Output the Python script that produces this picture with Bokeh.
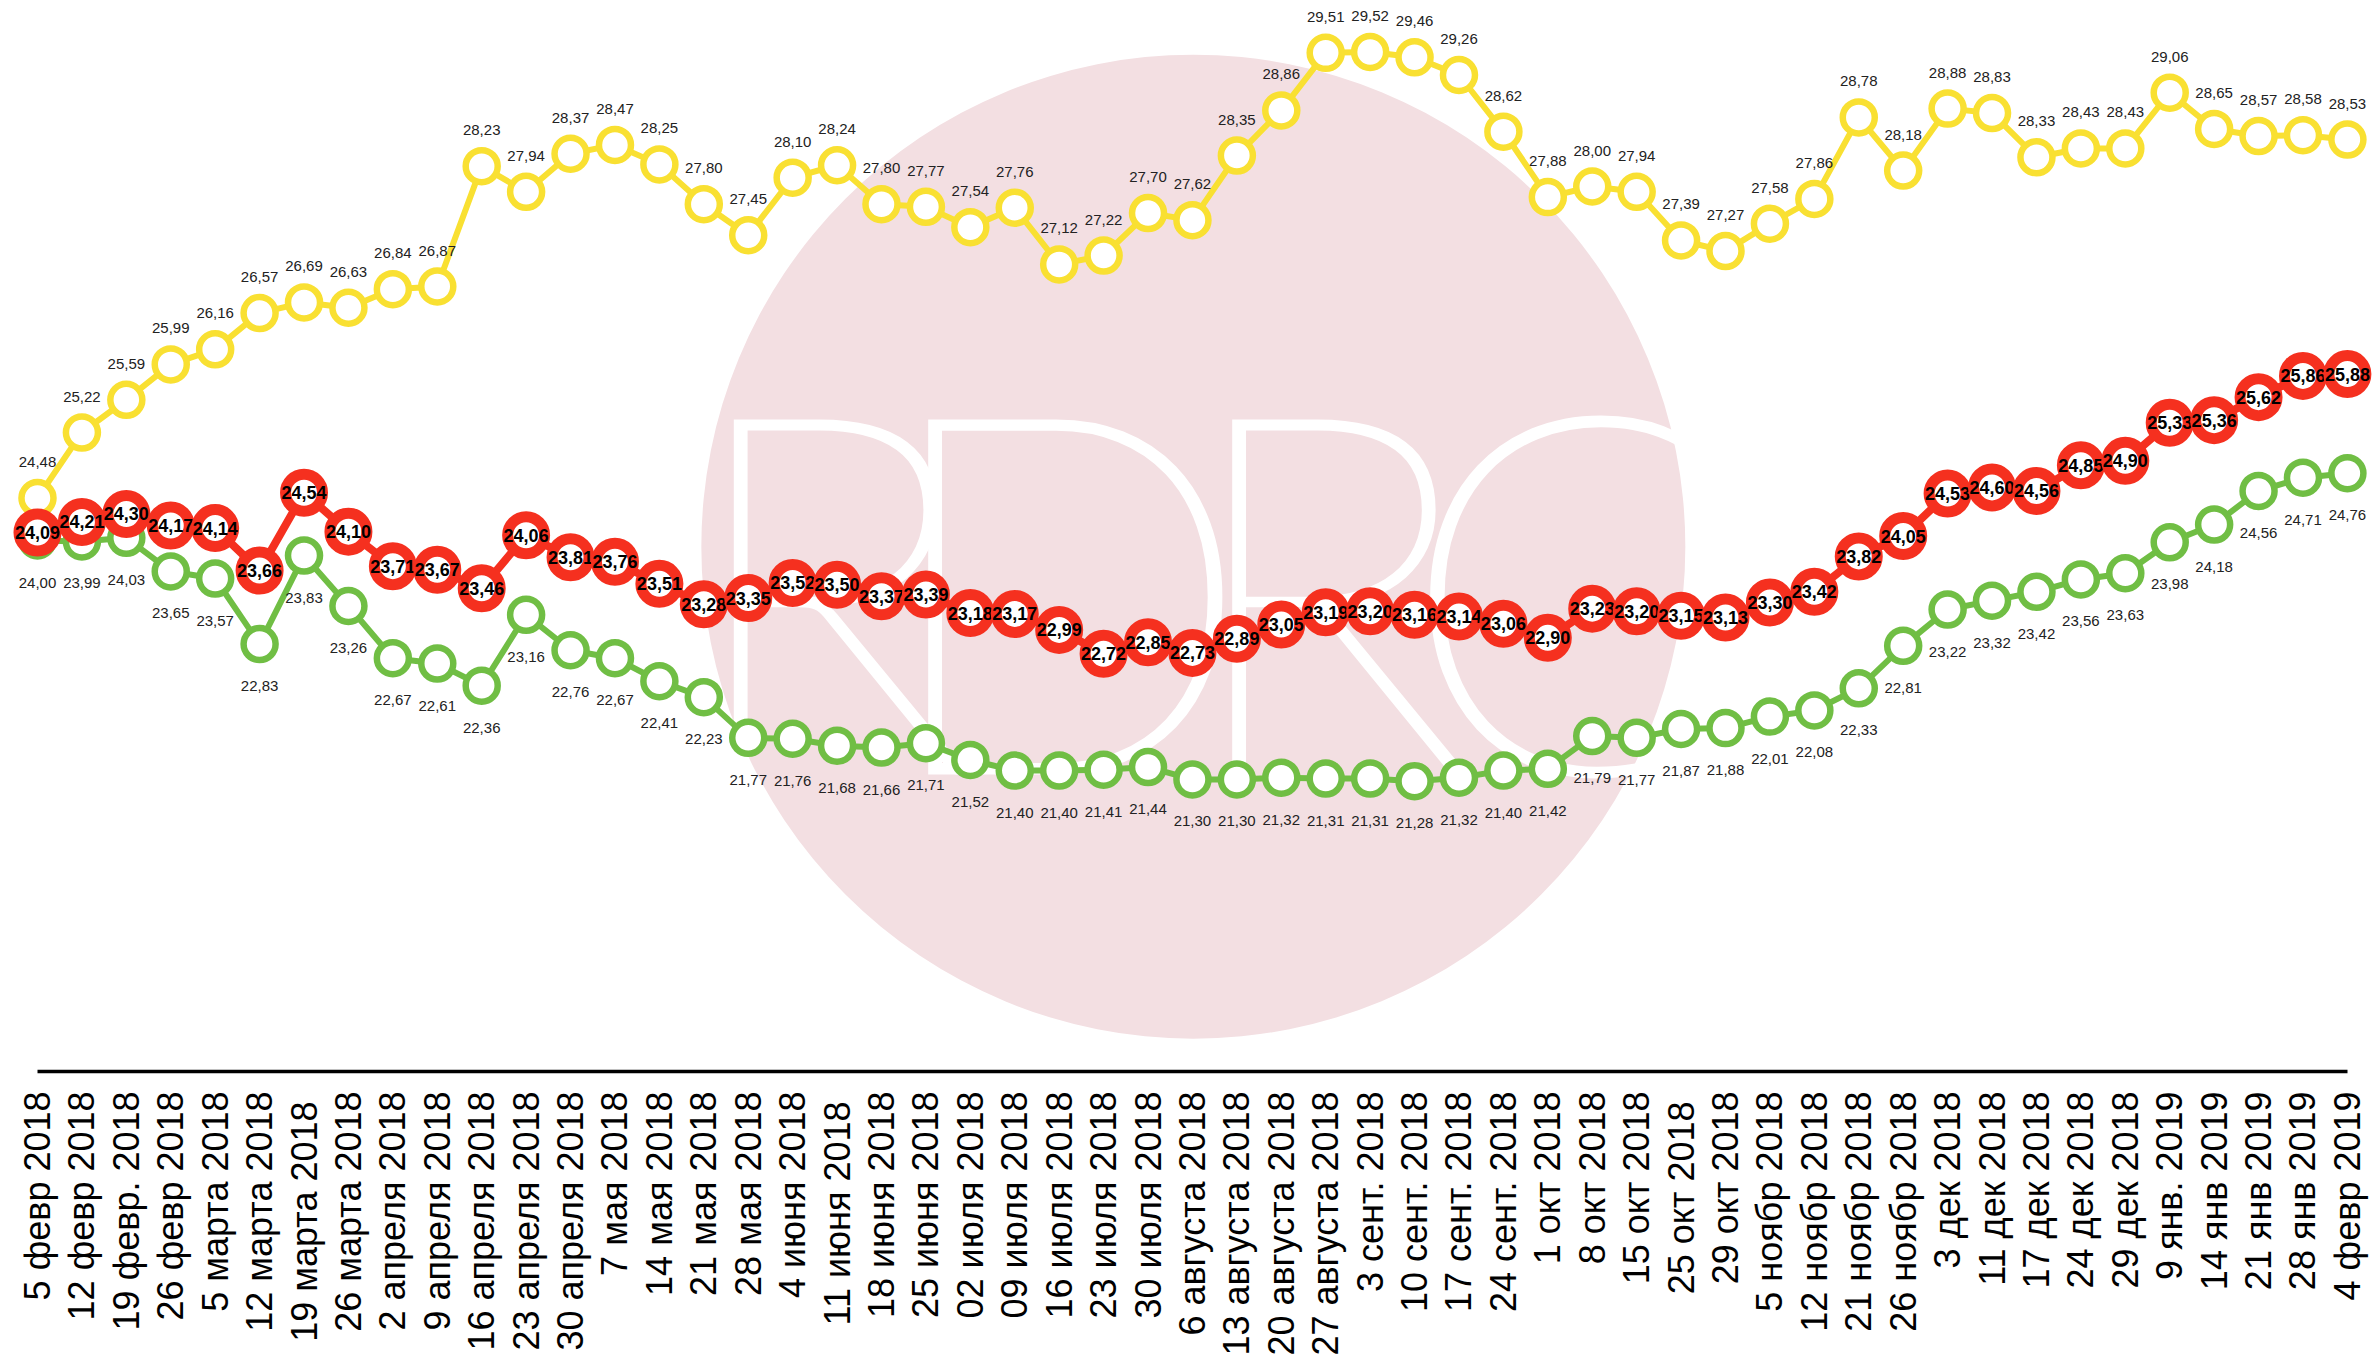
import math
from bokeh.plotting import figure
from bokeh.models import ColumnDataSource, Range1d, FixedTicker
from bokeh.core.properties import value
from bokeh.embed import file_html
from bokeh.resources import INLINE

# ---------------- data ----------------
dates = [
    "5 февр 2018", "12 февр 2018", "19 февр. 2018", "26 февр 2018",
    "5 марта 2018", "12 марта 2018", "19  марта 2018", "26 марта 2018",
    "2 апреля 2018", "9 апреля 2018", "16 апреля 2018", "23 апреля 2018",
    "30 апреля 2018", "7 мая 2018", "14 мая 2018", "21 мая 2018",
    "28 мая 2018", "4 июня 2018", "11 июня 2018 ", "18 июня 2018",
    "25 июня 2018", "02 июля 2018", "09 июля 2018", "16 июля 2018",
    "23 июля 2018", "30 июля 2018", "6 августа 2018", "13 августа 2018",
    "20 августа 2018", "27 августа 2018", "3 сент. 2018", "10 сент. 2018",
    "17 сент. 2018", "24 сент. 2018", "1 окт 2018", "8 окт 2018",
    "15 окт 2018", "25 окт 2018 ", "29 окт 2018", "5 ноябр 2018",
    "12 ноябр 2018", "21 ноябр 2018", "26 ноябр 2018", "3 дек 2018",
    "11 дек 2018", "17 дек 2018", "24 дек 2018", "29 дек 2018",
    "9 янв. 2019", "14 янв 2019", "21 янв 2019", "28 янв 2019",
    "4 февр 2019",
]

yellow = [24.48, 25.22, 25.59, 25.99, 26.16, 26.57, 26.69, 26.63, 26.84, 26.87,
          28.23, 27.94, 28.37, 28.47, 28.25, 27.80, 27.45, 28.10, 28.24, 27.80,
          27.77, 27.54, 27.76, 27.12, 27.22, 27.70, 27.62, 28.35, 28.86, 29.51,
          29.52, 29.46, 29.26, 28.62, 27.88, 28.00, 27.94, 27.39, 27.27, 27.58,
          27.86, 28.78, 28.18, 28.88, 28.83, 28.33, 28.43, 28.43, 29.06, 28.65,
          28.57, 28.58, 28.53]

red = [24.09, 24.21, 24.30, 24.17, 24.14, 23.66, 24.54, 24.10, 23.71, 23.67,
       23.46, 24.06, 23.81, 23.76, 23.51, 23.28, 23.35, 23.52, 23.50, 23.37,
       23.39, 23.18, 23.17, 22.99, 22.72, 22.85, 22.73, 22.89, 23.05, 23.19,
       23.20, 23.16, 23.14, 23.06, 22.90, 23.23, 23.20, 23.15, 23.13, 23.30,
       23.42, 23.82, 24.05, 24.53, 24.60, 24.56, 24.85, 24.90, 25.33, 25.36,
       25.62, 25.86, 25.88]

green = [24.00, 23.99, 24.03, 23.65, 23.57, 22.83, 23.83, 23.26, 22.67, 22.61,
         22.36, 23.16, 22.76, 22.67, 22.41, 22.23, 21.77, 21.76, 21.68, 21.66,
         21.71, 21.52, 21.40, 21.40, 21.41, 21.44, 21.30, 21.30, 21.32, 21.31,
         21.31, 21.28, 21.32, 21.40, 21.42, 21.79, 21.77, 21.87, 21.88, 22.01,
         22.08, 22.33, 22.81, 23.22, 23.32, 23.42, 23.56, 23.63, 23.98, 24.18,
         24.56, 24.71, 24.76]

# ---------------- styling ----------------
YELLOW = "#f9e032"
GREEN = "#70be44"
RED = "#f5301f"
PINK = "#f3dfe2"
LABEL_FONT = "Liberation Sans"

idx = list(range(len(dates)))


def fmt(v):
    return f"{v:.2f}".replace(".", ",")


def src(vals):
    return ColumnDataSource(dict(x=idx, y=vals, t=[fmt(v) for v in vals]))


p = figure(
    frame_width=2365, frame_height=1062,
    x_range=Range1d(-0.63, 52.61), y_range=Range1d(18, 30),
    output_backend="svg", toolbar_location=None,
    y_axis_location=None,
    min_border_left=9, min_border_right=0, min_border_top=9,
    background_fill_color="white", border_fill_color="white",
)
p.outline_line_color = None
p.xgrid.grid_line_color = None
p.ygrid.grid_line_color = None

# ---------------- watermark (decoration) ----------------
p.circle(x=[26.02], y=[23.93], radius=492, radius_units="screen",
         fill_color=PINK, line_color=None)
p.text(x=[17.80, 23.10, 29.02, 34.49], y=[23.56] * 4, text=list("RDRC"),
       text_font=value("Lato Thin, Roboto Thin, Lato Hairline, Lato"),
       text_font_size="505px", text_color="white",
       text_align="center", text_baseline="middle")

# ---------------- yellow ----------------
sy = src(yellow)
p.line("x", "y", source=sy, line_color=YELLOW, line_width=6)
p.scatter("x", "y", source=sy, size=32, fill_color="white",
          line_color=YELLOW, line_width=6.5)
p.text("x", "y", text="t", source=sy, y_offset=-36,
       text_font=value(LABEL_FONT), text_font_size="15px", text_color="#222222",
       text_align="center", text_baseline="middle")

# ---------------- green ----------------
sg = src(green)
p.line("x", "y", source=sg, line_color=GREEN, line_width=6)
p.scatter("x", "y", source=sg, size=32, fill_color="white",
          line_color=GREEN, line_width=6.5)
p.text("x", "y", text="t", source=sg, y_offset=42,
       text_font=value(LABEL_FONT), text_font_size="15px", text_color="#222222",
       text_align="center", text_baseline="middle")

# ---------------- red (point by point, label drawn after its circle) ----------------
sr = src(red)
p.line("x", "y", source=sr, line_color=RED, line_width=8)
for i in idx:
    one = ColumnDataSource(dict(x=[i], y=[red[i]], t=[fmt(red[i])]))
    p.scatter("x", "y", source=one, size=37, fill_color="white",
              line_color=RED, line_width=11)
    p.text("x", "y", text="t", source=one,
           text_font=value(LABEL_FONT), text_font_size="18px",
           text_font_style="bold", text_color="#000000",
           text_align="center", text_baseline="middle")

# ---------------- x axis ----------------
ax = p.xaxis[0]
ax.ticker = FixedTicker(ticks=idx)
ax.major_label_overrides = {i: d for i, d in enumerate(dates)}
ax.major_label_orientation = math.pi / 2
ax.major_label_text_font = LABEL_FONT
ax.major_label_text_font_size = "36px"
ax.major_label_text_color = "black"
ax.major_label_standoff = 14
ax.major_tick_line_color = None
ax.minor_tick_line_color = None
ax.axis_line_color = "black"
ax.axis_line_width = 3.5
ax.bounds = (0, len(dates) - 1)

open("out.html", "w").write(file_html(p, INLINE))
